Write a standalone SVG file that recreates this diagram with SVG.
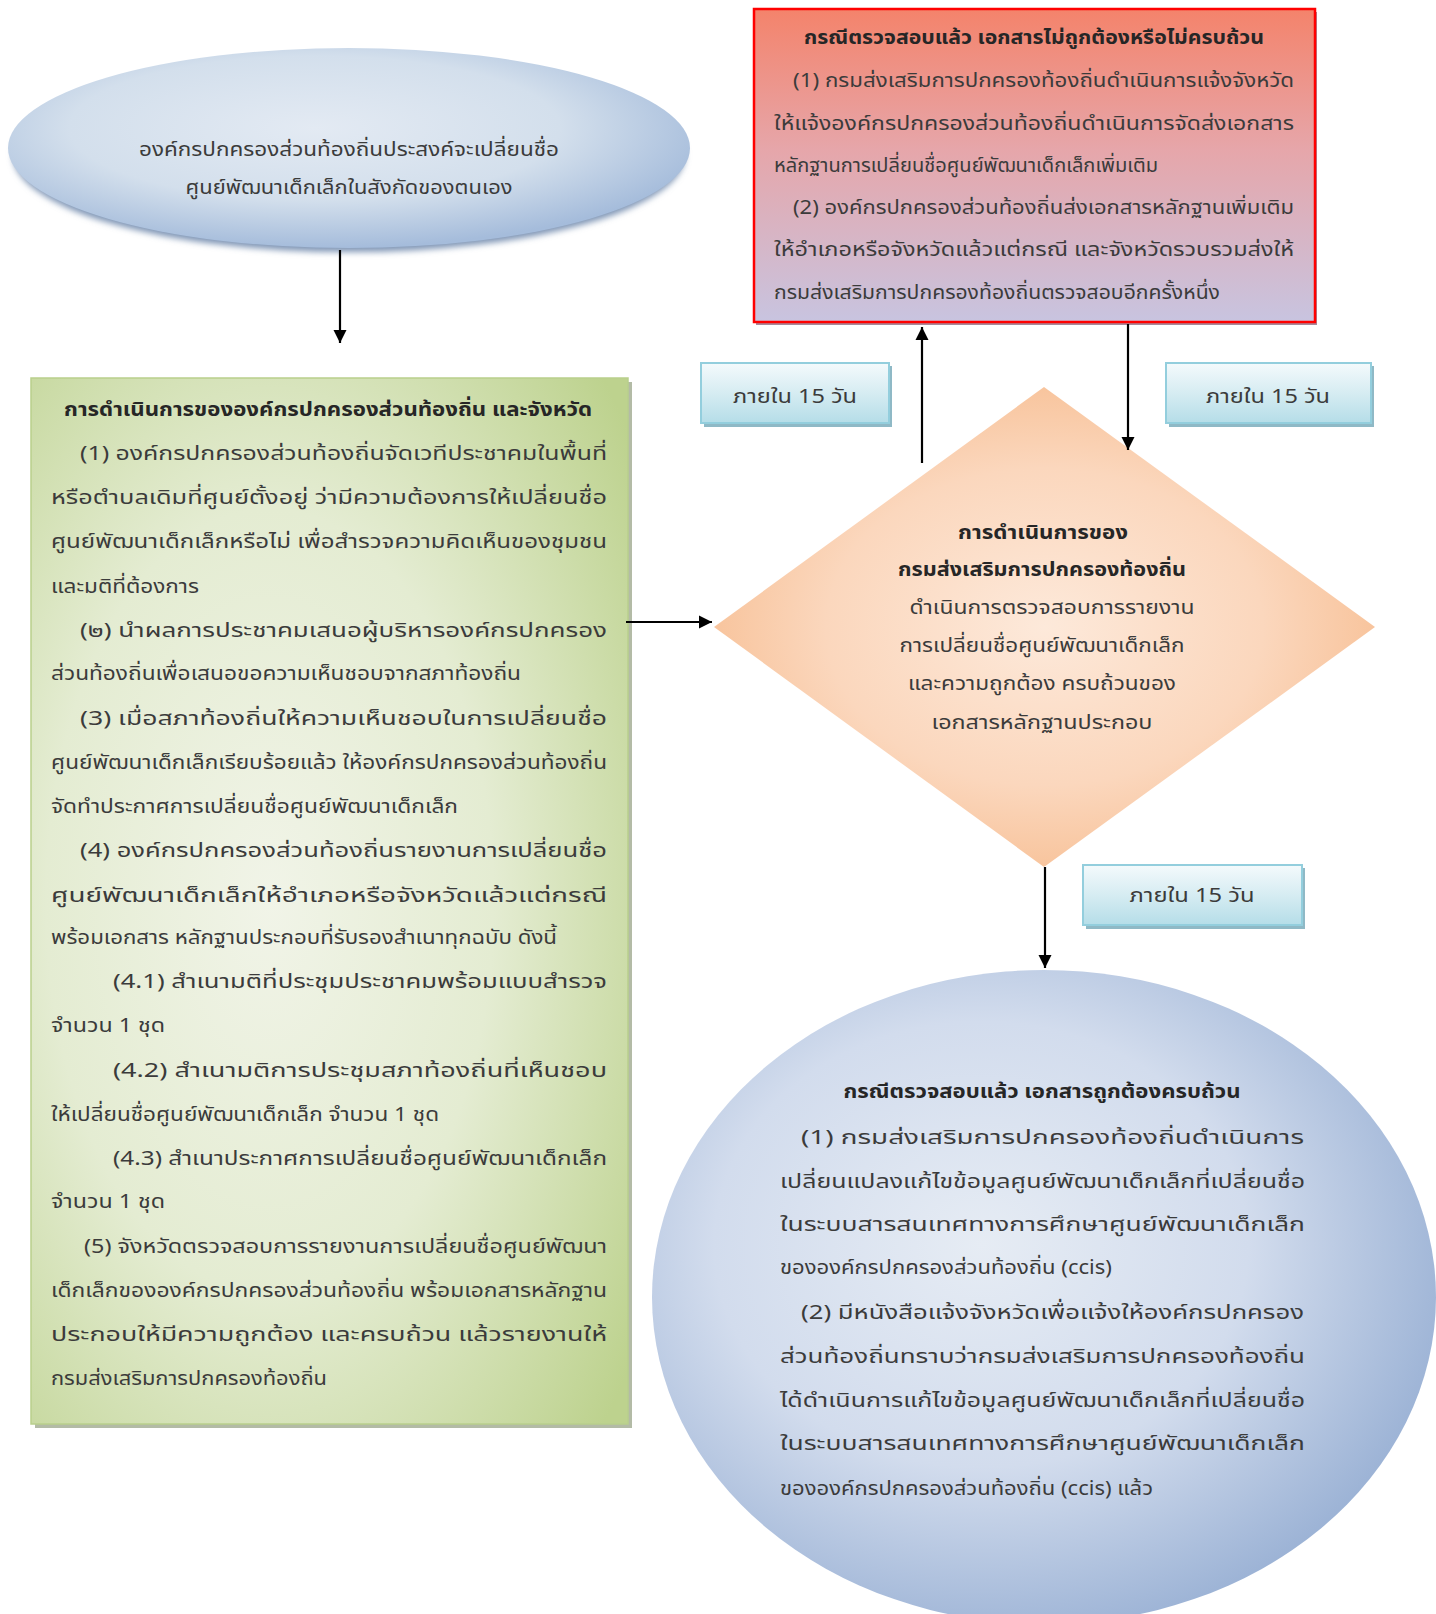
<svg xmlns="http://www.w3.org/2000/svg" width="1436" height="1614" viewBox="0 0 1436 1614">
<defs>
<radialGradient id="gEll" cx="0.45" cy="0.4" r="0.6">
<stop offset="0" stop-color="#e3eaf3"/><stop offset="0.6" stop-color="#d3dfec"/><stop offset="1" stop-color="#a5bcdb"/>
</radialGradient>
<radialGradient id="gCirc" cx="0.42" cy="0.42" r="0.62">
<stop offset="0" stop-color="#e6ecf4"/><stop offset="0.55" stop-color="#d2dced"/><stop offset="1" stop-color="#9bb2d5"/>
</radialGradient>
<linearGradient id="gRed" x1="0" y1="0" x2="0" y2="1">
<stop offset="0" stop-color="#f4836b"/><stop offset="0.45" stop-color="#e6a6aa"/><stop offset="1" stop-color="#c8c4e0"/>
</linearGradient>
<radialGradient id="gGreen" cx="0.4" cy="0.5" r="0.75">
<stop offset="0" stop-color="#f1f4e8"/><stop offset="0.5" stop-color="#e4ecd2"/><stop offset="1" stop-color="#bdd28e"/>
</radialGradient>
<radialGradient id="gDia" cx="0.5" cy="0.5" r="0.55">
<stop offset="0" stop-color="#fde9da"/><stop offset="0.6" stop-color="#fbd7bd"/><stop offset="1" stop-color="#f7bf94"/>
</radialGradient>
<linearGradient id="gCyan" x1="0" y1="0" x2="0" y2="1">
<stop offset="0" stop-color="#f4fafc"/><stop offset="0.5" stop-color="#d6ecf2"/><stop offset="1" stop-color="#b5dde8"/>
</linearGradient>
<filter id="blur4" x="-10%" y="-10%" width="120%" height="120%"><feGaussianBlur stdDeviation="3"/></filter>
<marker id="arr" viewBox="0 0 10 10" refX="10" refY="5" markerWidth="6" markerHeight="6" markerUnits="strokeWidth" orient="auto">
<path d="M0,0 L10,5 L0,10 z" fill="#000"/>
</marker>
</defs>
<style>
text{font-family:"Noto Sans Thai","Tahoma","Loma","Garuda","Noto Sans","DejaVu Sans",sans-serif;font-size:20px;fill:#3b3b3b}
.b{font-weight:bold;fill:#262626}
.c{text-anchor:middle}
.conn{stroke:#000;stroke-width:2.2;fill:none;marker-end:url(#arr)}
.cyan{fill:url(#gCyan);stroke:#93cedd;stroke-width:2}
.cyansh{fill:#8fb9c6}
</style>

<g id="start">
<ellipse cx="349" cy="155" rx="336" ry="97" fill="#7f95b5" filter="url(#blur4)"/>
<ellipse cx="349" cy="148" rx="341" ry="100" fill="url(#gEll)"/>
<text class="c" x="349" y="156" textLength="420" lengthAdjust="spacingAndGlyphs">องค์กรปกครองส่วนท้องถิ่นประสงค์จะเปลี่ยนชื่อ</text>
<text class="c" x="349" y="194" textLength="327" lengthAdjust="spacingAndGlyphs">ศูนย์พัฒนาเด็กเล็กในสังกัดของตนเอง</text>
</g>

<g id="local">
<rect x="35" y="382" width="597" height="1046" fill="#b3bba6"/>
<rect x="31" y="378" width="597" height="1046" fill="url(#gGreen)" stroke="#b9cf8c" stroke-width="1.5"/>
<text class="b c" x="328" y="416" textLength="528" lengthAdjust="spacingAndGlyphs">การดำเนินการขององค์กรปกครองส่วนท้องถิ่น และจังหวัด</text>
<text x="80" y="460" textLength="527" lengthAdjust="spacingAndGlyphs">(1) องค์กรปกครองส่วนท้องถิ่นจัดเวทีประชาคมในพื้นที่</text>
<text x="51" y="504" textLength="556" lengthAdjust="spacingAndGlyphs">หรือตำบลเดิมที่ศูนย์ตั้งอยู่ ว่ามีความต้องการให้เปลี่ยนชื่อ</text>
<text x="51" y="548" textLength="556" lengthAdjust="spacingAndGlyphs">ศูนย์พัฒนาเด็กเล็กหรือไม่ เพื่อสำรวจความคิดเห็นของชุมชน</text>
<text x="51" y="593" textLength="148" lengthAdjust="spacingAndGlyphs">และมติที่ต้องการ</text>
<text x="80" y="637" textLength="527" lengthAdjust="spacingAndGlyphs">(๒) นำผลการประชาคมเสนอผู้บริหารองค์กรปกครอง</text>
<text x="51" y="680" textLength="470" lengthAdjust="spacingAndGlyphs">ส่วนท้องถิ่นเพื่อเสนอขอความเห็นชอบจากสภาท้องถิ่น</text>
<text x="80" y="725" textLength="527" lengthAdjust="spacingAndGlyphs">(3) เมื่อสภาท้องถิ่นให้ความเห็นชอบในการเปลี่ยนชื่อ</text>
<text x="51" y="769" textLength="556" lengthAdjust="spacingAndGlyphs">ศูนย์พัฒนาเด็กเล็กเรียบร้อยแล้ว ให้องค์กรปกครองส่วนท้องถิ่น</text>
<text x="51" y="813" textLength="407" lengthAdjust="spacingAndGlyphs">จัดทำประกาศการเปลี่ยนชื่อศูนย์พัฒนาเด็กเล็ก</text>
<text x="80" y="857" textLength="527" lengthAdjust="spacingAndGlyphs">(4) องค์กรปกครองส่วนท้องถิ่นรายงานการเปลี่ยนชื่อ</text>
<text x="51" y="902" textLength="556" lengthAdjust="spacingAndGlyphs">ศูนย์พัฒนาเด็กเล็กให้อำเภอหรือจังหวัดแล้วแต่กรณี</text>
<text x="51" y="944" textLength="506" lengthAdjust="spacingAndGlyphs">พร้อมเอกสาร หลักฐานประกอบที่รับรองสำเนาทุกฉบับ ดังนี้</text>
<text x="113" y="988" textLength="494" lengthAdjust="spacingAndGlyphs">(4.1) สำเนามติที่ประชุมประชาคมพร้อมแบบสำรวจ</text>
<text x="51" y="1032" textLength="114" lengthAdjust="spacingAndGlyphs">จำนวน 1 ชุด</text>
<text x="113" y="1077" textLength="494" lengthAdjust="spacingAndGlyphs">(4.2) สำเนามติการประชุมสภาท้องถิ่นที่เห็นชอบ</text>
<text x="51" y="1121" textLength="388" lengthAdjust="spacingAndGlyphs">ให้เปลี่ยนชื่อศูนย์พัฒนาเด็กเล็ก จำนวน 1 ชุด</text>
<text x="113" y="1165" textLength="494" lengthAdjust="spacingAndGlyphs">(4.3) สำเนาประกาศการเปลี่ยนชื่อศูนย์พัฒนาเด็กเล็ก</text>
<text x="51" y="1208" textLength="114" lengthAdjust="spacingAndGlyphs">จำนวน 1 ชุด</text>
<text x="84" y="1253" textLength="523" lengthAdjust="spacingAndGlyphs">(5) จังหวัดตรวจสอบการรายงานการเปลี่ยนชื่อศูนย์พัฒนา</text>
<text x="51" y="1297" textLength="556" lengthAdjust="spacingAndGlyphs">เด็กเล็กขององค์กรปกครองส่วนท้องถิ่น พร้อมเอกสารหลักฐาน</text>
<text x="51" y="1341" textLength="556" lengthAdjust="spacingAndGlyphs">ประกอบให้มีความถูกต้อง และครบถ้วน แล้วรายงานให้</text>
<text x="51" y="1385" textLength="276" lengthAdjust="spacingAndGlyphs">กรมส่งเสริมการปกครองท้องถิ่น</text>
</g>

<g id="incomplete">
<rect x="756" y="12" width="561" height="313" fill="#a8889a"/>
<rect x="754" y="9" width="561" height="313" fill="url(#gRed)" stroke="#ff0000" stroke-width="2.5"/>
<text class="b c" x="1034" y="44" textLength="460" lengthAdjust="spacingAndGlyphs">กรณีตรวจสอบแล้ว เอกสารไม่ถูกต้องหรือไม่ครบถ้วน</text>
<text x="793" y="87" textLength="501" lengthAdjust="spacingAndGlyphs">(1) กรมส่งเสริมการปกครองท้องถิ่นดำเนินการแจ้งจังหวัด</text>
<text x="774" y="130" textLength="520" lengthAdjust="spacingAndGlyphs">ให้แจ้งองค์กรปกครองส่วนท้องถิ่นดำเนินการจัดส่งเอกสาร</text>
<text x="774" y="172" textLength="384" lengthAdjust="spacingAndGlyphs">หลักฐานการเปลี่ยนชื่อศูนย์พัฒนาเด็กเล็กเพิ่มเติม</text>
<text x="793" y="214" textLength="501" lengthAdjust="spacingAndGlyphs">(2) องค์กรปกครองส่วนท้องถิ่นส่งเอกสารหลักฐานเพิ่มเติม</text>
<text x="774" y="256" textLength="520" lengthAdjust="spacingAndGlyphs">ให้อำเภอหรือจังหวัดแล้วแต่กรณี และจังหวัดรวบรวมส่งให้</text>
<text x="774" y="299" textLength="446" lengthAdjust="spacingAndGlyphs">กรมส่งเสริมการปกครองท้องถิ่นตรวจสอบอีกครั้งหนึ่ง</text>
</g>

<g id="label-left">
<rect x="704" y="366" width="188" height="61" class="cyansh"/>
<rect x="701" y="363" width="188" height="60" class="cyan"/>
<text class="c" x="795" y="403" textLength="124" lengthAdjust="spacingAndGlyphs">ภายใน 15 วัน</text>
</g>
<g id="label-right">
<rect x="1169" y="366" width="205" height="61" class="cyansh"/>
<rect x="1166" y="363" width="205" height="60" class="cyan"/>
<text class="c" x="1268" y="403" textLength="124" lengthAdjust="spacingAndGlyphs">ภายใน 15 วัน</text>
</g>
<g id="label-bottom">
<rect x="1086" y="868" width="219" height="61" class="cyansh"/>
<rect x="1083" y="865" width="219" height="60" class="cyan"/>
<text class="c" x="1192" y="902" textLength="125" lengthAdjust="spacingAndGlyphs">ภายใน 15 วัน</text>
</g>

<g id="check">
<polygon points="1044,387 1375,627 1044,867 714,627" fill="url(#gDia)"/>
<text class="b c" x="1043" y="539" textLength="170" lengthAdjust="spacingAndGlyphs">การดำเนินการของ</text>
<text class="b c" x="1042" y="576" textLength="288" lengthAdjust="spacingAndGlyphs">กรมส่งเสริมการปกครองท้องถิ่น</text>
<text class="c" x="1052" y="614" textLength="285" lengthAdjust="spacingAndGlyphs">ดำเนินการตรวจสอบการรายงาน</text>
<text class="c" x="1042" y="652" textLength="285" lengthAdjust="spacingAndGlyphs">การเปลี่ยนชื่อศูนย์พัฒนาเด็กเล็ก</text>
<text class="c" x="1042" y="690" textLength="268" lengthAdjust="spacingAndGlyphs">และความถูกต้อง ครบถ้วนของ</text>
<text class="c" x="1042" y="729" textLength="221" lengthAdjust="spacingAndGlyphs">เอกสารหลักฐานประกอบ</text>
</g>

<g id="complete">
<ellipse cx="1044" cy="1297" rx="392" ry="327" fill="url(#gCirc)"/>
<text class="b c" x="1042" y="1098" textLength="397" lengthAdjust="spacingAndGlyphs">กรณีตรวจสอบแล้ว เอกสารถูกต้องครบถ้วน</text>
<text x="801" y="1144" textLength="503" lengthAdjust="spacingAndGlyphs">(1) กรมส่งเสริมการปกครองท้องถิ่นดำเนินการ</text>
<text x="780" y="1188" textLength="525" lengthAdjust="spacingAndGlyphs">เปลี่ยนแปลงแก้ไขข้อมูลศูนย์พัฒนาเด็กเล็กที่เปลี่ยนชื่อ</text>
<text x="780" y="1231" textLength="525" lengthAdjust="spacingAndGlyphs">ในระบบสารสนเทศทางการศึกษาศูนย์พัฒนาเด็กเล็ก</text>
<text x="780" y="1274" textLength="332" lengthAdjust="spacingAndGlyphs">ขององค์กรปกครองส่วนท้องถิ่น (ccis)</text>
<text x="801" y="1319" textLength="503" lengthAdjust="spacingAndGlyphs">(2) มีหนังสือแจ้งจังหวัดเพื่อแจ้งให้องค์กรปกครอง</text>
<text x="780" y="1363" textLength="525" lengthAdjust="spacingAndGlyphs">ส่วนท้องถิ่นทราบว่ากรมส่งเสริมการปกครองท้องถิ่น</text>
<text x="780" y="1407" textLength="525" lengthAdjust="spacingAndGlyphs">ได้ดำเนินการแก้ไขข้อมูลศูนย์พัฒนาเด็กเล็กที่เปลี่ยนชื่อ</text>
<text x="780" y="1450" textLength="525" lengthAdjust="spacingAndGlyphs">ในระบบสารสนเทศทางการศึกษาศูนย์พัฒนาเด็กเล็ก</text>
<text x="780" y="1495" textLength="373" lengthAdjust="spacingAndGlyphs">ขององค์กรปกครองส่วนท้องถิ่น (ccis) แล้ว</text>
</g>

<g id="connectors">
<line class="conn" x1="340" y1="250" x2="340" y2="343"/>
<line class="conn" x1="626" y1="622" x2="712" y2="622"/>
<line class="conn" x1="922" y1="463" x2="922" y2="327"/>
<line class="conn" x1="1128" y1="324" x2="1128" y2="450"/>
<line class="conn" x1="1045" y1="867" x2="1045" y2="968"/>
</g>
</svg>
